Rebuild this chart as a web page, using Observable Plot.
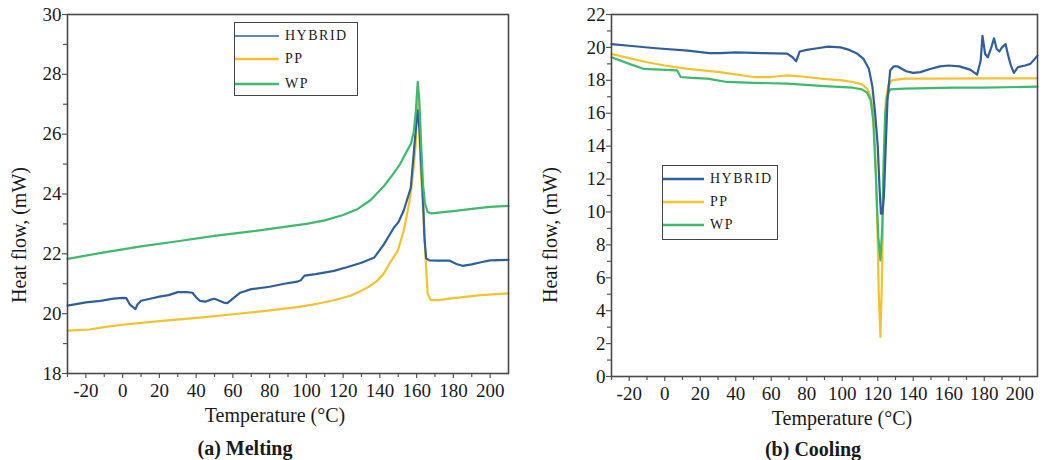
<!DOCTYPE html>
<html>
<head>
<meta charset="utf-8">
<script src="https://cdn.jsdelivr.net/npm/d3@7"></script>
<script src="https://cdn.jsdelivr.net/npm/@observablehq/plot@0.6"></script>
<style>
  html, body { margin: 0; padding: 0; background: #fff; }
  #root { position: relative; width: 1048px; height: 460px; overflow: hidden; font-family: "Liberation Serif", "DejaVu Serif", serif; color: #1a1a1a; }
  .panel { position: absolute; top: 0; font-family: "Liberation Serif", serif !important; }
  .panel text, .panel g { font-family: "Liberation Serif", serif !important; }
  .title { position: absolute; font-size: 20px; white-space: nowrap; transform: translate(-50%, -50%); }
  .ytitle { position: absolute; font-size: 20px; white-space: nowrap; transform: translate(-50%, -50%) rotate(-90deg); }
  .cap { position: absolute; font-size: 20px; font-weight: bold; white-space: nowrap; transform: translate(-50%, -50%); }
  .legend { position: absolute; border: 1.5px solid #444; background: #fff; box-sizing: border-box; }
  .legend .row { position: absolute; left: 0; height: 16px; display: flex; align-items: center; font-size: 14px; letter-spacing: 1.5px; }
  .legend svg { display: block; }
</style>
</head>
<body>
<div id="root"></div>
<script>
// ---------- DATA ----------
const seriesNames = ["HYBRID", "PP", "WP"];
const seriesColors = { HYBRID: "#2f5f9c", PP: "#f5c22e", WP: "#3dba6c" };

const xMajorTicks = [-20, 0, 20, 40, 60, 80, 100, 120, 140, 160, 180, 200];
const xMinorTicks = [-30, -10, 10, 30, 50, 70, 90, 110, 130, 150, 170, 190];
const meltYTicks = [18, 20, 22, 24, 26, 28, 30];
const meltYMinor = [19, 21, 23, 25, 27, 29];
const coolYTicks = [0, 2, 4, 6, 8, 10, 12, 14, 16, 18, 20, 22];
const coolYMinor = [1, 3, 5, 7, 9, 11, 13, 15, 17, 19, 21];

// (a) Melting
const meltHybridT = [-30,-20,-12,-5,0,2,4,6,7,8,10,15,20,25,30,35,38,40,42,45,48,50,52,55,57,60,64,70,80,88,95,97,99,105,115,122,130,137,142,147.6,150,153,156.8,158.5,159.6,160.5,161.5,162.5,163.5,164.3,165.2,167,172,178,182,185,190,195,200,210];
const meltHybridV = [20.27,20.38,20.43,20.5,20.53,20.52,20.3,20.2,20.15,20.3,20.43,20.5,20.57,20.62,20.72,20.72,20.7,20.55,20.43,20.4,20.47,20.5,20.45,20.37,20.35,20.5,20.7,20.82,20.9,21.0,21.07,21.12,21.27,21.32,21.43,21.55,21.7,21.88,22.3,22.87,23.05,23.45,24.2,25.4,26.2,26.8,26.2,25.0,23.8,22.5,21.85,21.78,21.77,21.77,21.65,21.6,21.65,21.72,21.78,21.8];

const meltPPT = [-30,-18,-10,0,6,20,42,60,79,95,106,115,124,130,134,138,142,146,149.7,153,155,156.8,158.2,159.5,160.6,161.3,162,163,164,165,166,167.7,172,178,185,195,210];
const meltPPV = [19.43,19.47,19.55,19.63,19.67,19.75,19.87,19.98,20.1,20.22,20.33,20.45,20.6,20.77,20.9,21.07,21.33,21.75,22.1,22.77,23.4,24.0,24.8,25.67,27.2,26.5,25.1,24.0,22.87,21.7,20.67,20.45,20.45,20.5,20.55,20.62,20.68];

const meltWPT = [-30,-10,10,30,50,70,90,100,110,120,128,135,142,147,151,154,157,158.5,159.5,160.6,161.5,162.5,163.5,164.5,166,168,172,180,190,200,210];
const meltWPV = [21.83,22.05,22.25,22.42,22.6,22.75,22.92,23.0,23.12,23.3,23.5,23.8,24.25,24.65,25.0,25.35,25.7,26.1,26.7,27.75,27.1,25.6,24.3,23.7,23.4,23.35,23.38,23.43,23.5,23.57,23.6];

// (b) Cooling
const coolHybridT = [-30,-20,-5,13,25,31,40,55,69,72,74,76,80,86,92,99,104,108,112,115,117,118.5,120,121,121.8,122.6,123.5,124.5,125.5,127,129,131,136,140,144,150,155,160,166,172,176,178,179,180.5,182,184,185.5,187,188.5,190,192,193.5,195,196.7,199,203,206,210];
const coolHybridV = [20.2,20.1,19.95,19.8,19.65,19.65,19.7,19.65,19.62,19.4,19.15,19.75,19.85,19.95,20.05,20.0,19.85,19.65,19.3,18.7,17.6,16.0,14.0,11.5,9.9,9.9,11.0,14.0,16.8,18.6,18.85,18.85,18.55,18.45,18.5,18.7,18.85,18.9,18.85,18.65,18.35,19.2,20.7,19.6,19.4,20.0,20.55,19.9,19.75,20.0,20.2,19.5,18.9,18.45,18.8,18.9,19.0,19.5];

const coolPPT = [-30,-20,-10,0,13,31,50,60,69,80,88,100,106,111,114,116,117.5,118.8,119.8,120.6,121.5,122.3,123,123.8,124.5,126,128,135,150,180,210];
const coolPPV = [19.6,19.35,19.1,18.9,18.7,18.5,18.2,18.2,18.3,18.2,18.1,18.0,17.9,17.75,17.5,17.0,16.0,13.0,9.0,5.0,2.4,5.5,10.0,14.0,16.8,17.7,18.0,18.1,18.1,18.12,18.12];

const coolWPT = [-30,-20,-12,7,9,15,24,35,50,69,90,106,111,114,116,117.5,119,120.3,121.5,122.5,123.3,124.2,125.5,127,135,163,180,210];
const coolWPV = [19.4,19.0,18.7,18.6,18.2,18.15,18.1,17.9,17.85,17.8,17.65,17.55,17.45,17.25,16.8,15.5,12.0,8.5,7.05,9.0,13.0,16.0,17.1,17.45,17.5,17.55,17.55,17.62];

// ---------- DRAW ----------
const root = document.getElementById("root");
const serif = "Liberation Serif, serif";

function rows(T, V) { return d3.zip(T, V).map(([t, v]) => ({t, v})); }

function makePanel({yDomain, yTicks, yMinor, lines, width, marginLeft, marginRight, height, marginBottom}) {
  const axisStyle = {stroke: "#555", strokeWidth: 1.2, fill: "#1a1a1a", fontSize: 19, fontFamily: serif};
  return Plot.plot({
    width, height,
    marginTop: 14, marginBottom, marginLeft, marginRight,
    style: {fontFamily: serif, background: "transparent", overflow: "visible"},
    x: {domain: [-30, 210]},
    y: {domain: yDomain},
    marks: [
      ...lines.map(l => Plot.line(rows(l.T, l.V), {x: "t", y: "v", stroke: seriesColors[l.name], strokeWidth: 2.2, curve: "linear"})),
      Plot.axisX(xMinorTicks, {...axisStyle, tickSize: 4, tickFormat: () => "", label: null}),
      Plot.axisX(xMajorTicks, {...axisStyle, tickSize: 5, tickPadding: 5, label: null, tickFormat: d => String(d)}),
      Plot.axisY(yMinor, {...axisStyle, tickSize: 4, tickFormat: () => "", label: null}),
      Plot.axisY(yTicks, {...axisStyle, tickSize: 5, tickPadding: 1, label: null, tickFormat: d => String(d)}),
      Plot.frame({stroke: "#4a4a4a", strokeWidth: 1.6})
    ]
  });
}

const left = makePanel({
  yDomain: [18, 30], yTicks: meltYTicks, yMinor: meltYMinor,
  width: 520, height: 410, marginLeft: 67, marginRight: 12, marginBottom: 37,
  lines: [
    {name: "PP", T: meltPPT, V: meltPPV},
    {name: "HYBRID", T: meltHybridT, V: meltHybridV},
    {name: "WP", T: meltWPT, V: meltWPV}
  ]
});
left.classList.add("panel");
left.style.left = "0px";
root.appendChild(left);

const right = makePanel({
  yDomain: [0, 22], yTicks: coolYTicks, yMinor: coolYMinor,
  width: 528, height: 410, marginLeft: 91, marginRight: 11, marginBottom: 34,
  lines: [
    {name: "PP", T: coolPPT, V: coolPPV},
    {name: "WP", T: coolWPT, V: coolWPV},
    {name: "HYBRID", T: coolHybridT, V: coolHybridV}
  ]
});
right.classList.add("panel");
right.style.left = "520px";
root.appendChild(right);

function addText(cls, text, x, y) {
  const d = document.createElement("div");
  d.className = cls; d.textContent = text;
  d.style.left = x + "px"; d.style.top = y + "px";
  root.appendChild(d);
}
addText("title", "Temperature (°C)", 275, 415);
addText("title", "Temperature (°C)", 842, 418);
addText("ytitle", "Heat flow, (mW)", 19, 235);
addText("ytitle", "Heat flow, (mW)", 550, 235);
addText("cap", "(a) Melting", 245, 448);
addText("cap", "(b) Cooling", 813, 449);

function addLegend(x, y, w, h, rowYs, lineLen, widths) {
  const box = document.createElement("div");
  box.className = "legend";
  Object.assign(box.style, {left: x + "px", top: y + "px", width: w + "px", height: h + "px"});
  seriesNames.forEach((name, i) => {
    const r = document.createElement("div");
    r.className = "row";
    r.style.top = (rowYs[i] - 8) + "px";
    r.innerHTML = `<svg width="${lineLen + 6}" height="16"><line x1="0" x2="${lineLen}" y1="8" y2="8" stroke="${seriesColors[name]}" stroke-width="${widths[i]}"/></svg><span>${name}</span>`;
    box.appendChild(r);
  });
  root.appendChild(box);
}
addLegend(234, 22, 124, 74, [13, 36, 61], 44, [1.4, 2.4, 2.4]);
addLegend(662, 165, 116, 75, [13, 36, 59], 41, [2.6, 2.6, 2.6]);
</script>
</body>
</html>
